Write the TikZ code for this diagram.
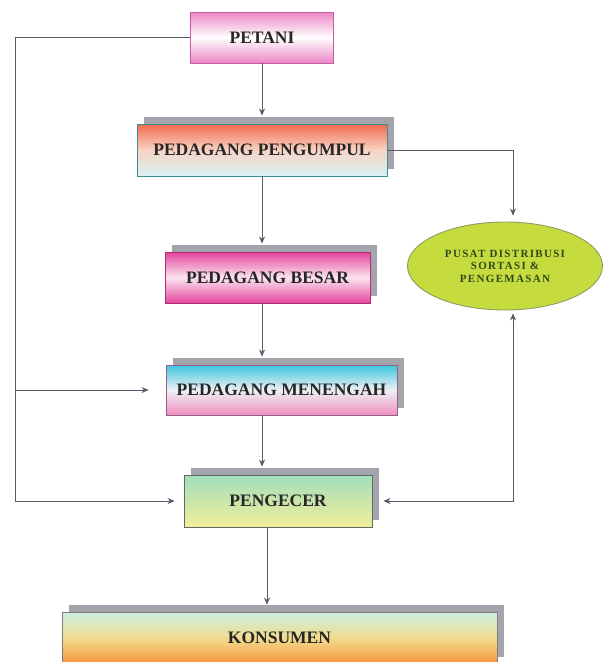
\documentclass[tikz,border=0pt]{standalone}
\usepackage{fontspec}
\setmainfont{Liberation Serif}
\usetikzlibrary{shadows,calc,arrows.meta,shapes.geometric}
\definecolor{petanic}{HTML}{EC86C6}
\definecolor{petanib}{HTML}{C85AA0}
\definecolor{pgtop}{HTML}{F26A4C}
\definecolor{pgmid}{HTML}{F8D4C4}
\definecolor{pgbot}{HTML}{D8F2F4}
\definecolor{pgb}{HTML}{3E8E90}
\definecolor{bstc}{HTML}{E2449E}
\definecolor{bstm}{HTML}{FBE4F0}
\definecolor{bstb}{HTML}{B02E78}
\definecolor{mntop}{HTML}{3CC6DE}
\definecolor{mnmid}{HTML}{EEF0F4}
\definecolor{mnbot}{HTML}{F08EC0}
\definecolor{mnb}{HTML}{94608E}
\definecolor{pctop}{HTML}{A2DEBC}
\definecolor{pcbot}{HTML}{F2EE9A}
\definecolor{pcb}{HTML}{5E6E5E}
\definecolor{kstop}{HTML}{CDF0E2}
\definecolor{ksmid}{HTML}{F2DC8E}
\definecolor{ksbot}{HTML}{F8923A}
\definecolor{ksb}{HTML}{7E7E7E}
\definecolor{ellc}{HTML}{C6DB3E}
\definecolor{ellb}{HTML}{8C9C62}
\definecolor{elltext}{HTML}{2E4A1A}
\definecolor{shadowgray}{HTML}{A4A4AC}
\definecolor{linec}{HTML}{5A5A6A}
\begin{document}
\begin{tikzpicture}[x=1pt,y=-1pt,
  cbox/.style={rectangle, inner sep=0pt, line width=0.9pt,
    font=\bfseries\fontsize{17.5}{19}\selectfont, text=black!85},
  sbox/.style={cbox, drop shadow={shadow xshift=7pt, shadow yshift=7pt,
    fill=shadowgray, opacity=1}},
  conn/.style={draw=linec, line width=0.8pt},
  arr/.style={conn, -{Stealth[length=7pt,width=6pt]}},
  arrtwo/.style={conn, {Stealth[length=7pt,width=6pt]}-{Stealth[length=7pt,width=6pt]}}]
\useasboundingbox (0,0) rectangle (608,662);

\node[cbox, minimum width=143pt, minimum height=51pt, draw=petanib,
  top color=petanic, bottom color=petanic, middle color=white] (petani) at (262,37.5) {PETANI};
\node[sbox, minimum width=250pt, minimum height=52pt, draw=pgb,
  top color=pgtop, bottom color=pgbot, middle color=pgmid] (pengumpul) at (262,150) {PEDAGANG PENGUMPUL};
\node[sbox, minimum width=205pt, minimum height=51pt, draw=bstb,
  top color=bstc, bottom color=bstc, middle color=bstm] (besar) at (267.5,277.5) {PEDAGANG BESAR};
\node[sbox, minimum width=231pt, minimum height=50pt, draw=mnb,
  top color=mntop, bottom color=mnbot, middle color=mnmid] (menengah) at (281.5,390) {PEDAGANG MENENGAH};
\node[sbox, minimum width=188pt, minimum height=52pt, draw=pcb,
  top color=pctop, bottom color=pcbot] (pengecer) at (278,501) {PENGECER};
\node[sbox, minimum width=435pt, minimum height=52pt, draw=ksb,
  top color=kstop, bottom color=ksbot, middle color=ksmid] (konsumen) at (279.5,638) {KONSUMEN};
\node[ellipse, draw=ellb, line width=0.9pt, fill=ellc, minimum width=195pt, minimum height=88pt,
  inner sep=0pt, align=center, text=elltext,
  font=\bfseries\fontsize{11}{12.5}\selectfont\addfontfeature{LetterSpace=12}] (ell) at (505,266)
  {PUSAT DISTRIBUSI\\SORTASI \&\\PENGEMASAN};

\coordinate (lx) at (15,0);

\draw[arr] (petani.south) -- ($(petani.south |- pengumpul.north)+(0,-8)$);
\draw[arr] (pengumpul.south) -- ($(pengumpul.south |- besar.north)+(0,-8)$);
\draw[arr] (pengumpul.south |- besar.south) -- ($(pengumpul.south |- menengah.north)+(0,-8)$);
\draw[arr] (pengumpul.south |- menengah.south) -- ($(pengumpul.south |- pengecer.north)+(0,-8)$);
\draw[arr] ($(pengecer.south)+(-11,0)$) -- ($(pengecer.south |- konsumen.north)+(-11,-7)$);

\draw[arr] (petani.west) -- (petani.west -| lx) |- ($(pengecer.west)+(-9,0)$);
\draw[arr] (lx |- menengah.west) -- ($(menengah.west)+(-17,0)$);

\draw[arr] (pengumpul.east) -| ($(ell.north)+(8,-6)$);
\draw[arrtwo] ($(pengecer.east)+(11,0)$) -| ($(ell.south)+(8,3)$);
\end{tikzpicture}
\end{document}
